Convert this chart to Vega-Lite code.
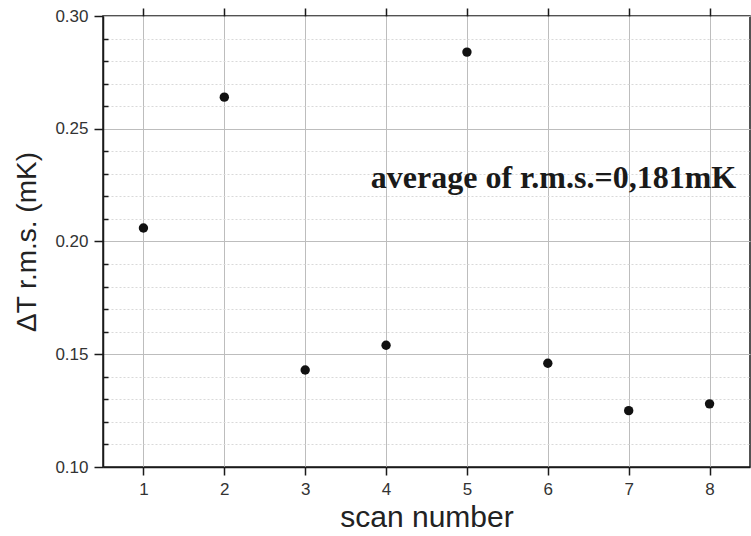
{
  "$schema": "https://vega.github.io/schema/vega-lite/v6.json",
  "width": 647,
  "height": 451,
  "autosize": {"type": "none"},
  "padding": {"left": 103, "top": 16, "right": 1, "bottom": 69},
  "background": "white",
  "config": {
    "view": {"stroke": "#1a1a1a", "strokeWidth": 1.5},
    "axis": {
      "domainColor": "#1a1a1a",
      "domainWidth": 1.5,
      "tickColor": "#1a1a1a",
      "tickWidth": 1.5,
      "labelFont": "Liberation Sans",
      "titleFont": "Liberation Sans",
      "labelColor": "#333333",
      "titleColor": "#222222",
      "titleFontWeight": "normal"
    }
  },
  "data": {
    "values": [
      {"scan": 1, "rms": 0.206},
      {"scan": 2, "rms": 0.264},
      {"scan": 3, "rms": 0.143},
      {"scan": 4, "rms": 0.154},
      {"scan": 5, "rms": 0.284},
      {"scan": 6, "rms": 0.146},
      {"scan": 7, "rms": 0.125},
      {"scan": 8, "rms": 0.128}
    ]
  },
  "layer": [
    {
      "mark": {"type": "point", "opacity": 0},
      "encoding": {
        "x": {
          "field": "scan", "type": "quantitative",
          "scale": {"domain": [0.5, 8.5], "nice": false, "zero": false},
          "axis": {"orient": "top", "values": [1, 2, 3, 4, 5, 6, 7, 8], "labels": false, "tickSize": 8, "grid": false, "title": null, "domain": false}
        },
        "y": {
          "field": "rms", "type": "quantitative",
          "scale": {"domain": [0.1, 0.3], "nice": false, "zero": false},
          "axis": {"orient": "left", "values": [0.11, 0.12, 0.13, 0.14, 0.16, 0.17, 0.18, 0.19, 0.21, 0.22, 0.23, 0.24, 0.26, 0.27, 0.28, 0.29], "labels": false, "tickSize": -5, "grid": true, "gridColor": "#d9d9d9", "gridDash": [2, 2], "gridWidth": 1, "title": null, "domain": false}
        }
      }
    },
    {
      "mark": {"type": "point", "filled": true, "color": "#111111", "opacity": 1, "size": 88},
      "encoding": {
        "x": {
          "field": "scan", "type": "quantitative",
          "scale": {"domain": [0.5, 8.5], "nice": false, "zero": false},
          "axis": {"orient": "bottom", "values": [1, 2, 3, 4, 5, 6, 7, 8], "tickSize": 8, "labelFontSize": 17, "labelPadding": 6, "grid": true, "gridColor": "#bdbdbd", "gridWidth": 1, "title": "scan number", "titleFontSize": 30, "titlePadding": 5}
        },
        "y": {
          "field": "rms", "type": "quantitative",
          "scale": {"domain": [0.1, 0.3], "nice": false, "zero": false},
          "axis": {"orient": "left", "values": [0.1, 0.15, 0.2, 0.25, 0.3], "format": ".2f", "tickSize": 9, "labelFontSize": 17, "labelPadding": 6, "grid": true, "gridColor": "#bdbdbd", "gridWidth": 1, "title": "ΔT r.m.s. (mK)", "titleFontSize": 28, "titlePadding": 13}
        }
      }
    },
    {
      "data": {"values": [{"tx": 6.07, "ty": 0.2237, "label": "average of r.m.s.=0,181mK"}]},
      "mark": {"type": "text", "font": "Liberation Serif", "fontWeight": "bold", "fontSize": 32, "color": "#1a1a1a", "align": "center", "baseline": "alphabetic"},
      "encoding": {
        "x": {"field": "tx", "type": "quantitative", "axis": null},
        "y": {"field": "ty", "type": "quantitative", "axis": null},
        "text": {"field": "label"}
      }
    }
  ],
  "resolve": {"axis": {"x": "independent", "y": "independent"}}
}
